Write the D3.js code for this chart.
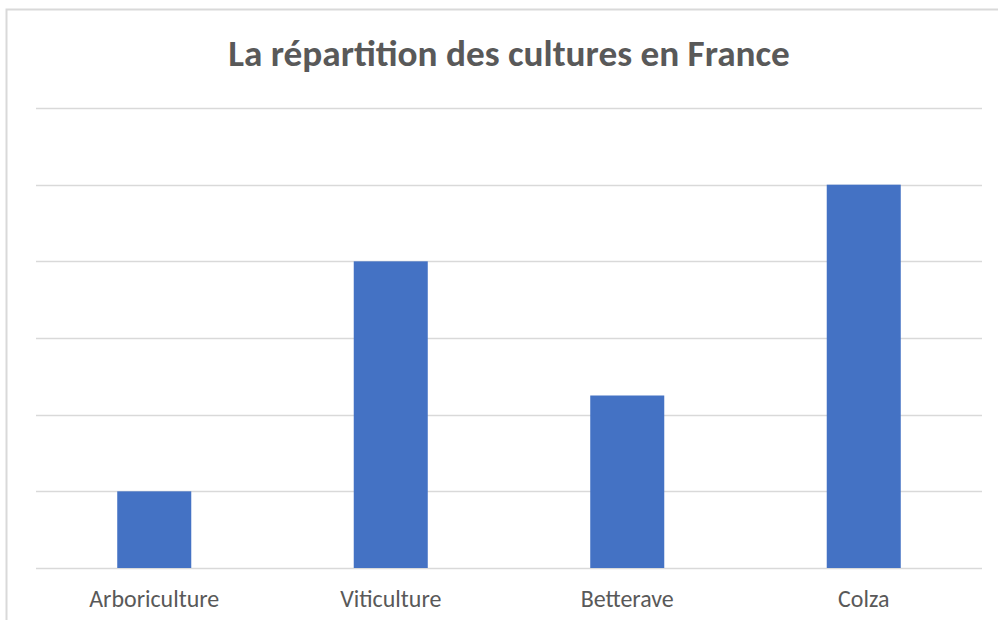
<!DOCTYPE html>
<html>
<head>
<meta charset="utf-8">
<script src="https://cdn.jsdelivr.net/npm/d3@7"></script>
<style>
  body { margin: 0; background: #fff; }
  svg { display: block; }
</style>
</head>
<body>
<svg id="chart" width="998" height="620"></svg>
<script>
// data
var categories = ["Arboriculture", "Viticulture", "Betterave", "Colza"]
var values = [1, 4, 2.25, 5]
var gridTicks = [0, 1, 2, 3, 4, 5, 6]
var title = "La répartition des cultures en France"

var svg = d3.select("#chart")
var width = +svg.attr("width")
var height = +svg.attr("height")
var margin = { top: 108, right: 16, bottom: 52, left: 36 }

var fontFam = "Carlito, Calibri, 'Open Sans', 'Noto Sans', sans-serif"

// chart border (only top and left visible in the source)
svg.append("path")
    .attr("d", `M6.5,${height} V9.5 H${width}`)
    .attr("fill", "none")
    .attr("stroke", "#d9d9d9")
    .attr("stroke-width", 2)

var x = d3.scaleBand()
    .domain(categories)
    .range([margin.left, width - margin.right])
    .paddingInner(0.687)
    .paddingOuter(0.3435)

var y = d3.scaleLinear()
    .domain([0, 6])
    .range([height - margin.bottom, margin.top])

// gridlines
svg.append("g")
    .selectAll("line")
    .data(gridTicks)
    .enter()
    .append("line")
    .attr("x1", margin.left)
    .attr("x2", width - margin.right)
    .attr("y1", d => Math.round(y(d)) + 0.5)
    .attr("y2", d => Math.round(y(d)) + 0.5)
    .attr("stroke", "#d9d9d9")
    .attr("stroke-width", 1.5)

// bars
svg.append("g")
    .selectAll("rect")
    .data(values)
    .enter()
    .append("rect")
    .attr("x", (d, i) => x(categories[i]))
    .attr("y", d => y(d))
    .attr("width", x.bandwidth())
    .attr("height", d => y(0) - y(d))
    .attr("fill", "#4472c4")

// x axis labels
var xAxis = g => g
    .attr("transform", `translate(0,${height - margin.bottom})`)
    .call(d3.axisBottom(x).tickSize(0).tickPadding(22))
    .call(g => g.select(".domain").remove())
    .call(g => g.selectAll("text")
        .attr("fill", "#595959")
        .attr("font-family", fontFam)
        .attr("font-size", 18))

svg.append("g").call(xAxis)

// title
var t = svg.append("text")
    .attr("x", (margin.left + width - margin.right) / 2)
    .attr("y", 66)
    .attr("text-anchor", "middle")
    .attr("font-family", fontFam)
    .attr("font-weight", "bold")
    .attr("font-size", 30)
    .attr("fill", "#595959")
    .text(title)

// scale fonts so widths match the picture
var tw = t.node().getComputedTextLength()
t.attr("font-size", 30 * 562 / tw)

var lab = svg.selectAll(".tick text").filter(d => d === "Arboriculture")
var lw = lab.node().getComputedTextLength()
svg.selectAll(".tick text").attr("font-size", 18 * 130 / lw)
</script>
</body>
</html>
